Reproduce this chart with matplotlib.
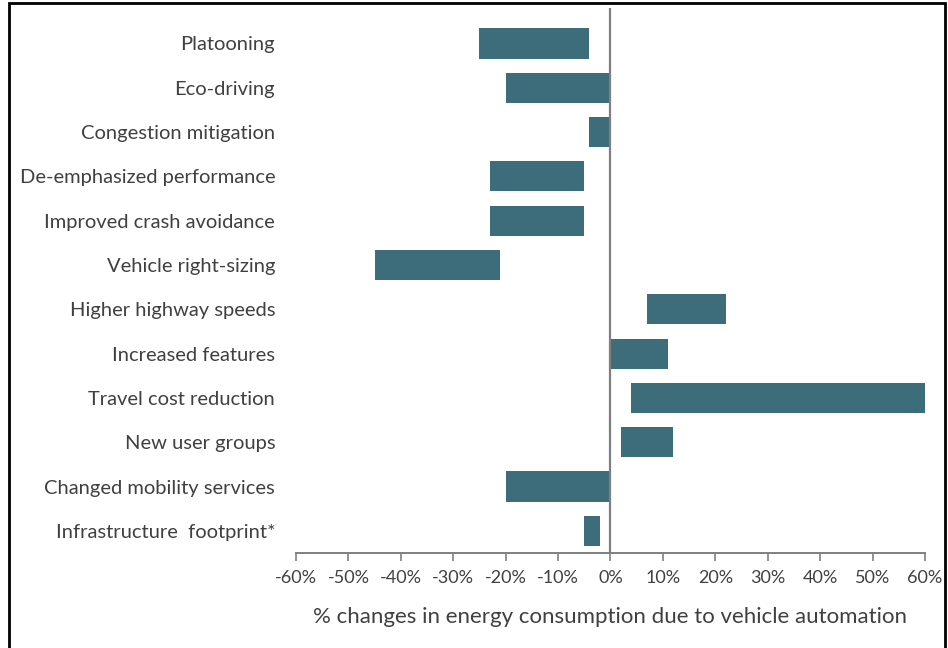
import numpy as np
import matplotlib.pyplot as plt
from matplotlib.patches import Rectangle
from matplotlib.ticker import FuncFormatter

plt.rcParams['font.family'] = ['Lato', 'DejaVu Sans']

categories = ['Platooning', 'Eco-driving', 'Congestion mitigation',
              'De-emphasized performance', 'Improved crash avoidance',
              'Vehicle right-sizing', 'Higher highway speeds',
              'Increased features', 'Travel cost reduction',
              'New user groups', 'Changed mobility services',
              'Infrastructure  footprint*']
low = [-25, -20, -4, -23, -23, -45, 7, 0, 4, 2, -20, -5]
high = [-4, 0, 0, -5, -5, -21, 22, 11, 60, 12, 0, -2]
xticks = list(range(-60, 61, 10))

bar_color = '#3d6d7a'
text_color = '#404040'

fig = plt.figure(figsize=(9.48, 6.48), dpi=100, facecolor='white')
ax = fig.add_axes([0.3122, 0.1466, 0.6635, 0.841])

y = np.arange(len(categories))
widths = np.array(high) - np.array(low)
ax.barh(y, widths, left=low, height=0.68, color=bar_color, zorder=2)

ax.axvline(0, color='#7f7f7f', linewidth=1.6, zorder=3)

ax.set_xlim(-60, 60)
ax.set_ylim(11.5, -0.8)
ax.set_yticks(y)
ax.set_yticklabels(categories, fontsize=14.5, color=text_color)
ax.tick_params(axis='y', length=0, pad=15)

ax.set_xticks(xticks)
ax.xaxis.set_major_formatter(FuncFormatter(lambda v, p: '%d%%' % v))
ax.tick_params(axis='x', length=6, width=1.2, color='#7f7f7f',
               labelsize=13, labelcolor=text_color, pad=6)
ax.set_xlabel('% changes in energy consumption due to vehicle automation',
              fontsize=16, color=text_color, labelpad=15)

for s in ['top', 'right', 'left']:
    ax.spines[s].set_visible(False)
ax.spines['bottom'].set_color('#7f7f7f')
ax.spines['bottom'].set_linewidth(1.4)

# outer frame of the screenshot (bottom edge cut off)
W, H = 948, 648
fig.patches.append(Rectangle((9 / W, -0.05), (945 - 9) / W, 1.05 - 3 / H,
                             transform=fig.transFigure, fill=False,
                             edgecolor='black', linewidth=2.0))

plt.savefig('out.png', dpi=100, facecolor=fig.get_facecolor())
